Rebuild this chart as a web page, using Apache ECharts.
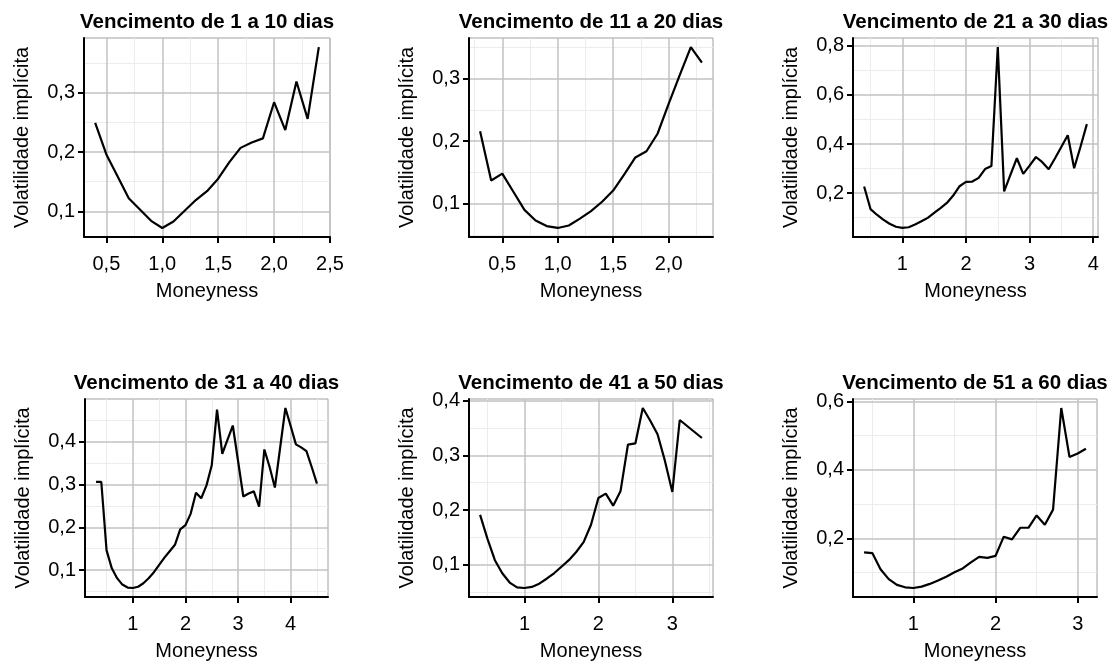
<!DOCTYPE html>
<html>
<head>
<meta charset="utf-8">
<script src="https://cdn.jsdelivr.net/npm/echarts@6/dist/echarts.min.js"></script>
<style>
  html, body { margin: 0; padding: 0; background: #fff; }
  #chart { width: 1120px; height: 664px; }
</style>
</head>
<body>
<div id="chart"></div>
<script>
// dados (moneyness x volatilidade implícita)
const titles = [
  "Vencimento de 1 a 10 dias",
  "Vencimento de 11 a 20 dias",
  "Vencimento de 21 a 30 dias",
  "Vencimento de 31 a 40 dias",
  "Vencimento de 41 a 50 dias",
  "Vencimento de 51 a 60 dias"
];

const money1 = [0.4, 0.5, 0.6, 0.7, 0.8, 0.9, 1.0, 1.1, 1.2, 1.3, 1.4, 1.5, 1.6, 1.7, 1.8, 1.9, 2.0, 2.1, 2.2, 2.3, 2.4];
const vol1 = [0.249, 0.196, 0.159, 0.122, 0.103, 0.084, 0.072, 0.083, 0.101, 0.119, 0.134, 0.155, 0.183, 0.207, 0.216, 0.223, 0.284, 0.237, 0.319, 0.256, 0.377];

const money2 = [0.3, 0.4, 0.5, 0.6, 0.7, 0.8, 0.9, 1.0, 1.1, 1.2, 1.3, 1.4, 1.5, 1.6, 1.7, 1.8, 1.9, 2.0, 2.1, 2.2, 2.3];
const vol2 = [0.216, 0.137, 0.148, 0.119, 0.090, 0.073, 0.064, 0.061, 0.065, 0.076, 0.088, 0.103, 0.121, 0.147, 0.174, 0.184, 0.212, 0.260, 0.306, 0.351, 0.326];

const money3 = [0.4, 0.5, 0.6, 0.7, 0.8, 0.9, 1.0, 1.1, 1.2, 1.3, 1.4, 1.5, 1.6, 1.7, 1.8, 1.9, 2.0, 2.1, 2.2, 2.3, 2.4, 2.5, 2.6, 2.7, 2.8, 2.9, 3.0, 3.1, 3.2, 3.3, 3.4, 3.5, 3.6, 3.7, 3.8, 3.9];
const vol3 = [0.227, 0.135, 0.112, 0.092, 0.075, 0.063, 0.058, 0.061, 0.072, 0.085, 0.099, 0.119, 0.139, 0.160, 0.190, 0.228, 0.246, 0.247, 0.262, 0.298, 0.310, 0.795, 0.207, 0.275, 0.342, 0.278, 0.312, 0.347, 0.326, 0.297, 0.342, 0.389, 0.436, 0.301, 0.389, 0.481];

const money4 = [0.3, 0.4, 0.5, 0.6, 0.7, 0.8, 0.9, 1.0, 1.1, 1.2, 1.3, 1.4, 1.5, 1.6, 1.7, 1.8, 1.9, 2.0, 2.1, 2.2, 2.3, 2.4, 2.5, 2.6, 2.7, 2.8, 2.9, 3.0, 3.1, 3.2, 3.3, 3.4, 3.5, 3.6, 3.7, 3.8, 3.9, 4.0, 4.1, 4.2, 4.3, 4.4, 4.5];
const vol4 = [0.306, 0.306, 0.146, 0.104, 0.081, 0.066, 0.059, 0.058, 0.061, 0.069, 0.081, 0.095, 0.112, 0.129, 0.144, 0.159, 0.195, 0.205, 0.232, 0.281, 0.268, 0.298, 0.345, 0.475, 0.372, 0.405, 0.438, 0.355, 0.272, 0.279, 0.284, 0.248, 0.382, 0.341, 0.293, 0.386, 0.479, 0.437, 0.394, 0.387, 0.378, 0.341, 0.302];

const money5 = [0.4, 0.5, 0.6, 0.7, 0.8, 0.9, 1.0, 1.1, 1.2, 1.3, 1.4, 1.5, 1.6, 1.7, 1.8, 1.9, 2.0, 2.1, 2.2, 2.3, 2.4, 2.5, 2.6, 2.7, 2.8, 2.9, 3.0, 3.1, 3.2, 3.3, 3.4];
const vol5 = [0.191, 0.147, 0.108, 0.084, 0.067, 0.058, 0.057, 0.059, 0.065, 0.074, 0.084, 0.096, 0.108, 0.123, 0.141, 0.173, 0.222, 0.230, 0.208, 0.235, 0.320, 0.322, 0.387, 0.364, 0.339, 0.290, 0.233, 0.365, 0.354, 0.343, 0.332];

const money6 = [0.4, 0.5, 0.6, 0.7, 0.8, 0.9, 1.0, 1.1, 1.2, 1.3, 1.4, 1.5, 1.6, 1.7, 1.8, 1.9, 2.0, 2.1, 2.2, 2.3, 2.4, 2.5, 2.6, 2.7, 2.8, 2.9, 3.0, 3.1];
const vol6 = [0.159, 0.157, 0.110, 0.081, 0.064, 0.057, 0.055, 0.059, 0.067, 0.077, 0.088, 0.101, 0.112, 0.130, 0.146, 0.143, 0.149, 0.205, 0.197, 0.231, 0.231, 0.267, 0.240, 0.284, 0.581, 0.438, 0.448, 0.462];

// marcas dos eixos
const xTicks1 = [0.5, 1.0, 1.5, 2.0, 2.5];
const xTicks2 = [0.5, 1.0, 1.5, 2.0];
const xTicks3 = [1, 2, 3, 4];
const xTicks4 = [1, 2, 3, 4];
const xTicks5 = [1, 2, 3];
const xTicks6 = [1, 2, 3];
const yTicks1 = [0.1, 0.2, 0.3];
const yTicks2 = [0.1, 0.2, 0.3];
const yTicks3 = [0.2, 0.4, 0.6, 0.8];
const yTicks4 = [0.1, 0.2, 0.3, 0.4];
const yTicks5 = [0.1, 0.2, 0.3, 0.4];
const yTicks6 = [0.2, 0.4, 0.6];
const xDecimals = [1, 1, 0, 0, 0, 0];

const xName = "Moneyness";
const yName = "Volatilidade implícita";

const panels = [
  { x: money1, y: vol1, xt: xTicks1, yt: yTicks1 },
  { x: money2, y: vol2, xt: xTicks2, yt: yTicks2 },
  { x: money3, y: vol3, xt: xTicks3, yt: yTicks3 },
  { x: money4, y: vol4, xt: xTicks4, yt: yTicks4 },
  { x: money5, y: vol5, xt: xTicks5, yt: yTicks5 },
  { x: money6, y: vol6, xt: xTicks6, yt: yTicks6 }
];

// posicao dos paineis
const boxes = [
  { left: 84, top: 38, width: 246, height: 199 },
  { left: 469, top: 38, width: 244, height: 199 },
  { left: 853, top: 38, width: 245, height: 199 },
  { left: 85, top: 399, width: 243, height: 198 },
  { left: 469, top: 399, width: 244, height: 198 },
  { left: 853, top: 399, width: 244, height: 198 }
];

const FONT = "Liberation Sans";
const FS = 20;

function expand(arr) {
  const lo = Math.min.apply(null, arr);
  const hi = Math.max.apply(null, arr);
  const d = (hi - lo) * 0.05;
  return [lo - d, hi + d];
}

// linhas secundarias entre as principais
function minorOf(ticks, range) {
  const step = ticks[1] - ticks[0];
  const out = [];
  for (let i = -1; i < ticks.length; i++) {
    const v = +(ticks[0] + step * i + step / 2).toFixed(4);
    if (v > range[0] && v < range[1]) out.push(v);
  }
  return out;
}

function fmt(v, dec) {
  return v.toFixed(dec).replace(".", ",");
}

const grid = [], xAxis = [], yAxis = [], series = [], title = [];

panels.forEach(function (p, i) {
  const b = boxes[i];
  grid.push({
    left: b.left, top: b.top, width: b.width, height: b.height,
    show: true, backgroundColor: "#fff", borderColor: "#a0a0a0", borderWidth: 1
  });
  title.push({
    text: titles[i],
    left: b.left + b.width / 2, top: b.top - 26, textAlign: "center", padding: 0,
    textStyle: { fontFamily: FONT, fontSize: 20.5, fontWeight: "bold", color: "#000" }
  });
  const xr = expand(p.x), yr = expand(p.y);
  const xMinor = minorOf(p.xt, xr), yMinor = minorOf(p.yt, yr);

  // eixo x secundario (grade fina)
  xAxis.push({
    gridIndex: i, type: "value", position: "top", min: xr[0], max: xr[1], z: 0,
    axisLine: { show: false }, axisLabel: { show: false },
    axisTick: { show: false, customValues: xMinor },
    splitLine: { show: true, lineStyle: { color: "#ececec", width: 1 } }
  });
  // eixo x principal
  xAxis.push({
    gridIndex: i, type: "value", position: "bottom", min: xr[0], max: xr[1], z: 2,
    name: xName, nameLocation: "middle", nameGap: 44,
    nameTextStyle: { fontFamily: FONT, fontSize: FS, color: "#000" },
    axisLine: { show: true, onZero: false, lineStyle: { color: "#000", width: 2 } },
    axisTick: { show: true, length: 6, customValues: p.xt, lineStyle: { color: "#000", width: 2 } },
    axisLabel: {
      show: true, customValues: p.xt, margin: 17, fontFamily: FONT, fontSize: FS, color: "#000",
      formatter: function (v) { return fmt(v, xDecimals[i]); }
    },
    splitLine: { show: true, lineStyle: { color: "#c2c2c2", width: 1.5 } }
  });
  yAxis.push({
    gridIndex: i, type: "value", position: "right", min: yr[0], max: yr[1], z: 0,
    axisLine: { show: false }, axisLabel: { show: false },
    axisTick: { show: false, customValues: yMinor },
    splitLine: { show: true, lineStyle: { color: "#ececec", width: 1 } }
  });
  yAxis.push({
    gridIndex: i, type: "value", position: "left", min: yr[0], max: yr[1], z: 2,
    name: yName, nameLocation: "middle", nameGap: 52,
    nameTextStyle: { fontFamily: FONT, fontSize: FS, color: "#000" },
    axisLine: { show: true, onZero: false, lineStyle: { color: "#000", width: 2 } },
    axisTick: { show: true, length: 6, customValues: p.yt, lineStyle: { color: "#000", width: 2 } },
    axisLabel: {
      show: true, customValues: p.yt, margin: 9, fontFamily: FONT, fontSize: FS, color: "#000",
      formatter: function (v) { return fmt(v, 1); }
    },
    splitLine: { show: true, lineStyle: { color: "#c2c2c2", width: 1.5 } }
  });
  series.push({
    type: "line",
    xAxisIndex: 2 * i + 1,
    yAxisIndex: 2 * i + 1,
    data: p.x.map(function (v, k) { return [v, p.y[k]]; }),
    showSymbol: false,
    symbol: "none",
    lineStyle: { color: "#000", width: 2.2 },
    z: 5,
    animation: false
  });
});

const chart = echarts.init(document.getElementById("chart"));
chart.setOption({
  backgroundColor: "#fff",
  animation: false,
  title: title,
  grid: grid,
  xAxis: xAxis,
  yAxis: yAxis,
  series: series
});
</script>
</body>
</html>
